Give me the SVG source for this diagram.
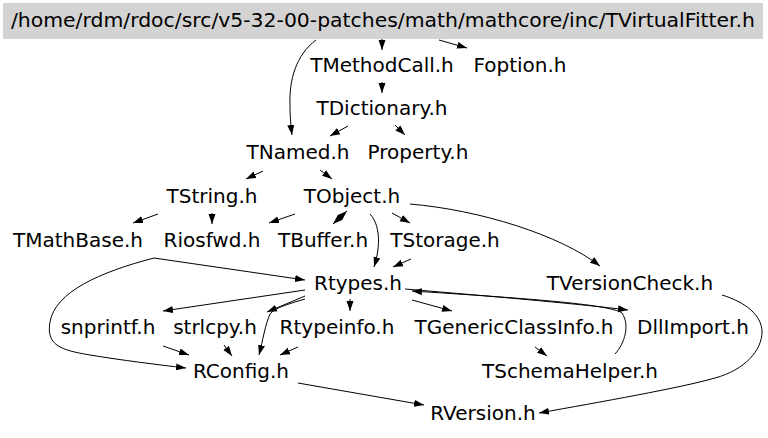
<svg xmlns="http://www.w3.org/2000/svg" width="768" height="438" viewBox="0 0 768 438">
<style>
text{font-family:"DejaVu Sans","Liberation Sans",sans-serif;font-size:20px;fill:#000;text-anchor:middle}
.e{fill:none;stroke:#000;stroke-width:1;marker-end:url(#ah)}
</style>
<defs>
<marker id="ah" markerUnits="userSpaceOnUse" markerWidth="10" markerHeight="8" refX="10" refY="3.5" orient="auto" viewBox="0 0 10 7">
<path d="M0,0 L10,3.5 L0,7 z" fill="#000"/>
</marker>
</defs>
<rect width="768" height="438" fill="#fff"/>
<g id="edges">
<path class="e" d="M316,40 C296,55 289,80 290,105 C290,118 291,127 292,135"/>
<path class="e" d="M382,39 L382,50"/>
<path class="e" d="M439,40 L467,48"/>
<path class="e" d="M382,82 L382,93"/>
<path class="e" d="M348,126 L330,136"/>
<path class="e" d="M395,125 L405,135"/>
<path class="e" d="M263,171 L246,179"/>
<path class="e" d="M320,170 L332,179"/>
<path class="e" d="M158,214 L133,223"/>
<path class="e" d="M212,213 L212,224"/>
<path class="e" d="M295,214 L269,223"/>
<path class="e" d="M347,211 L333,224"/>
<path class="e" d="M333,224 L347,211"/>
<path class="e" d="M370,214 C380,225 381,245 374,267"/>
<path class="e" d="M392,213 L410,223"/>
<path class="e" d="M410,204 C480,210 560,235 600,266"/>
<path class="e" d="M411,259 L393,267"/>
<path class="e" d="M154,258 L305,280"/>
<path class="e" d="M154,258 C100,272 55,292 50,322 C46,345 60,350 90,355 C120,360 160,365 186,368"/>
<path class="e" d="M305,290 L163,311"/>
<path class="e" d="M305,296 L267,312"/>
<path class="e" d="M305,299 C285,305 275,308 270,314 C265,325 263,340 259,355"/>
<path class="e" d="M350,299 L350,311"/>
<path class="e" d="M412,300 L452,311"/>
<path class="e" d="M405,289 C500,297 580,304 628,310"/>
<path class="e" d="M615,354 C625,343 630,325 622,313 C610,304 520,298 412,291"/>
<path class="e" d="M535,347 L547,356"/>
<path class="e" d="M722,295 C745,302 762,315 762,332 C762,350 745,370 715,378 C680,388 600,402 539,413"/>
<path class="e" d="M298,383 L424,405"/>
<path class="e" d="M163,346 L189,355"/>
<path class="e" d="M224,345 L232,356"/>
<path class="e" d="M298,347 L280,355"/>
</g>
<g id="TVirtualFitter"><rect x="3" y="3" width="760" height="36" fill="#d3d3d3"/><text x="383" y="27" textLength="744" lengthAdjust="spacingAndGlyphs">/home/rdm/rdoc/src/v5-32-00-patches/math/mathcore/inc/TVirtualFitter.h</text></g>
<g id="TMethodCall"><text x="382" y="72">TMethodCall.h</text></g>
<g id="Foption"><text x="520" y="72">Foption.h</text></g>
<g id="TDictionary"><text x="382" y="115">TDictionary.h</text></g>
<g id="TNamed"><text x="298" y="159">TNamed.h</text></g>
<g id="Property"><text x="418" y="159">Property.h</text></g>
<g id="TString"><text x="212" y="203">TString.h</text></g>
<g id="TObject"><text x="352" y="203">TObject.h</text></g>
<g id="TMathBase"><text x="78" y="247">TMathBase.h</text></g>
<g id="Riosfwd"><text x="212" y="247">Riosfwd.h</text></g>
<g id="TBuffer"><text x="323" y="247">TBuffer.h</text></g>
<g id="TStorage"><text x="445" y="247">TStorage.h</text></g>
<g id="Rtypes"><text x="358" y="290">Rtypes.h</text></g>
<g id="TVersionCheck"><text x="630" y="290">TVersionCheck.h</text></g>
<g id="snprintf"><text x="108" y="334">snprintf.h</text></g>
<g id="strlcpy"><text x="215" y="334">strlcpy.h</text></g>
<g id="Rtypeinfo"><text x="337" y="334">Rtypeinfo.h</text></g>
<g id="TGenericClassInfo"><text x="514" y="334">TGenericClassInfo.h</text></g>
<g id="DllImport"><text x="693" y="334">DllImport.h</text></g>
<g id="TSchemaHelper"><text x="570" y="378">TSchemaHelper.h</text></g>
<g id="RConfig"><text x="241" y="378">RConfig.h</text></g>
<g id="RVersion"><text x="483" y="420">RVersion.h</text></g>
</svg>
